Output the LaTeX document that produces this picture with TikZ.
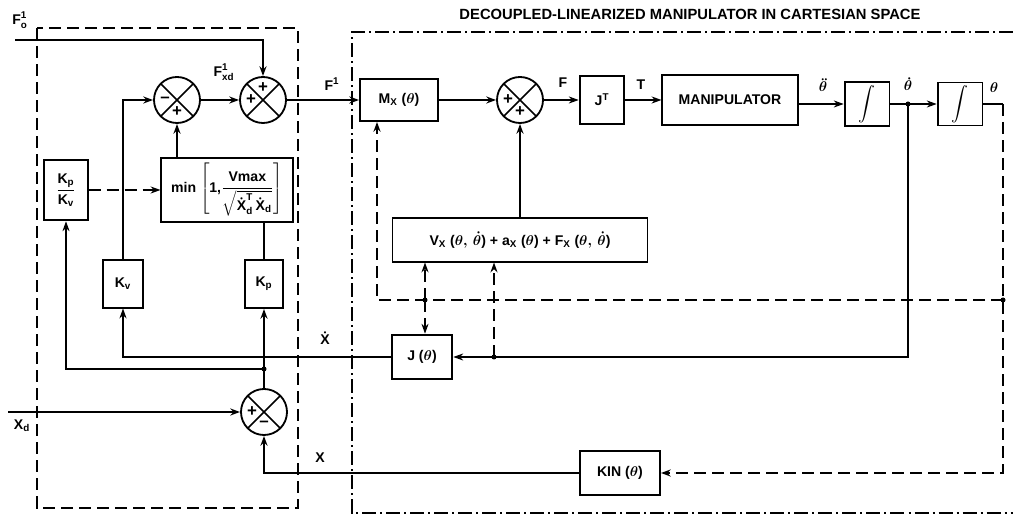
\documentclass[tikz,border=0pt]{standalone}
\usepackage{fontspec}
\setmainfont{Liberation Sans}
\usepackage{amsmath}
\usetikzlibrary{calc, arrows.meta}

\begin{document}
\begin{tikzpicture}[
    x=0.025cm,
    y=-0.025cm,
    >={Stealth[length=7pt, width=5pt]},
    line width=1.1pt,
    every node/.style={font=\bfseries\boldmath},
    blk/.style={draw, rectangle, inner sep=2pt, line width=1.3pt},
    sumj/.style={draw, circle, minimum size=1.15cm, inner sep=0pt, line width=1.3pt,
        path picture={\draw[line width=1.1pt]
            (path picture bounding box.north west) -- (path picture bounding box.south east)
            (path picture bounding box.south west) -- (path picture bounding box.north east);}},
    sgn/.style={font=\bfseries\large, inner sep=0pt},
    lab/.style={inner sep=1pt},
    fb/.style={dash pattern=on 0.3cm off 0.15cm},
    grp/.style={line width=1.3pt, dash pattern=on 0.3cm off 0.15cm},
    sys/.style={line width=1.3pt, dash pattern=on 0.35cm off 0.1cm on 0.05cm off 0.1cm}
]
\useasboundingbox (0,0) rectangle (1013,523);

% --- Group frames ---
\draw[grp] (37,28) rectangle (298,508);
\draw[sys] (1013,32) -- (352,32) -- (352,513) -- (1013,513);
\node[font=\bfseries\fontsize{10.5}{12}\selectfont] (ttl) at (690,14) {DECOUPLED-LINEARIZED MANIPULATOR IN CARTESIAN SPACE};

% --- Summing junctions ---
\node[sumj] (s1) at (177,100) {};
\node[sumj] (s2) at (263,100) {};
\node[sumj] (s3) at (264,412) {};
\node[sumj] (s4) at (520,100) {};

\node[sgn] (s1a) at ($(s1)+(-12,0)$) {--};
\node[sgn] (s1b) at ($(s1)+(0,12)$) {+};
\node[sgn] (s2a) at ($(s2)+(0,-12)$) {+};
\node[sgn] (s2b) at ($(s2)+(-12,0)$) {+};
\node[sgn] (s3a) at ($(s3)+(-12,0)$) {+};
\node[sgn] (s3b) at ($(s3)+(0,12)$) {--};
\node[sgn] (s4a) at ($(s4)+(-12,0)$) {+};
\node[sgn] (s4b) at ($(s4)+(0,12)$) {+};

% --- Blocks ---
\node[blk, minimum width=1.08cm, minimum height=1.52cm] (kpkv) at (66,190)
    {$\dfrac{\text{K}_{\text{p}}}{\text{K}_{\text{v}}}$};
\node[blk, minimum width=3.28cm, minimum height=1.62cm] (minb) at (227,190)
    {min $\left[\text{1,}\dfrac{\text{Vmax}}{\sqrt{\dot{\text{X}}^{\text{T}}_{\text{d}}\,\dot{\text{X}}_{\text{d}}}}\right]$};
\node[blk, minimum width=1cm, minimum height=1.18cm] (kv) at (123,284) {K$_{\text{v}}$};
\node[blk, minimum width=0.95cm, minimum height=1.2cm] (kp) at (264,284) {K$_{\text{p}}$};

\node[blk, minimum width=1.95cm, minimum height=1.05cm] (mx) at (399,100) {M$_{\text{X}}$ ($\theta$)};
\node[blk, minimum width=1.12cm, minimum height=1.18cm] (jt) at (602,100) {J$^{\text{T}}$};
\node[blk, minimum width=3.38cm, minimum height=1.25cm] (man) at (730,100) {MANIPULATOR};
\node[blk, minimum width=1.12cm, minimum height=1.12cm] (i1) at (867,104) {\large$\displaystyle\int$};
\node[blk, minimum width=1.12cm, minimum height=1.05cm] (i2) at (960,104) {\large$\displaystyle\int$};
\node[blk, minimum width=6.375cm, minimum height=1.08cm] (vbox) at (520,240)
    {V$_{\text{X}}$ ($\theta,\,\dot\theta$) + a$_{\text{X}}$ ($\theta$) + F$_{\text{X}}$ ($\theta,\,\dot\theta$)};
\node[blk, minimum width=1.52cm, minimum height=1.12cm] (jac) at (422,357) {J ($\theta$)};
\node[blk, minimum width=2cm, minimum height=1.08cm] (kin) at (620,473) {KIN ($\theta$)};

% --- Free ends and branch points ---
\coordinate (fo) at (15,40);
\coordinate (xd) at (8,412);
\coordinate (j1) at (264,369);
\coordinate (jd) at (908,104);
\coordinate (thr) at (1003,104);
\coordinate (j2) at (1003,300);
\coordinate (j3) at (494,357);
\coordinate (j4) at (425,300);
\fill (j1) circle (2.5);
\fill (jd) circle (2.5);
\fill (j2) circle (2.5);
\fill (j3) circle (2.5);
\fill (j4) circle (2.5);

% --- Outer loop (left) ---
\draw[->] (fo) -| (s2.north);
\draw[->] (kv.north) |- (s1.west);
\draw[->] (minb.north -| s1) -- (s1.south);
\draw (kp.north) -- (kp.north |- minb.south);
\draw[->, fb] (kpkv.east) -- (minb.west);
\draw[->] (s1.east) -- (s2.west);
\draw[->] (s2.east) -- (mx.west);
\draw[->] (s3.north) -- (kp.south);
\draw[->] (j1) -| (kpkv.south);
\draw[->] (jac.west) -| (kv.south);
\draw[->] (xd) -- (s3.west);
\draw[->] (kin.west) -| (s3.south);

% --- Manipulator chain ---
\draw[->] (mx.east) -- (s4.west);
\draw[->] (s4.east) -- (jt.west);
\draw[->] (jt.east) -- (man.west);
\draw[->] (man.east |- i1.west) -- (i1.west);
\draw[->] (i1.east) -- (i2.west);
\draw (i2.east) -- (thr);
\draw[->] (vbox.north) -- (s4.south);

% --- Feedback ---
\draw[->] (jd) |- (jac.east);
\draw[->, fb] (j3) -- (j3 |- vbox.south);
\draw[->, fb] (thr) |- (kin.east);
\draw[->, fb] (j2) -| ([xshift=-0.55cm]mx.south);
\draw[->, fb] (j4) -- (j4 |- vbox.south);
\draw[->, fb] (j4) -- (j4 |- jac.north);

% --- Signal labels ---
\node[lab] (lfo) at (20,20) {$\text{F}^{\text{1}}_{\text{o}}$};
\node[lab] (lfxd) at (224,72) {$\text{F}^{\text{1}}_{\text{xd}}$};
\node[lab] (lf1) at (332,84) {$\text{F}^{\text{1}}$};
\node[lab] (lf) at (563,83) {F};
\node[lab] (lt) at (641,85) {T};
\node[lab] (ldd) at (823,85) {$\ddot\theta$};
\node[lab] (ld) at (908,84) {$\dot\theta$};
\node[lab] (lth) at (994,88) {$\theta$};
\node[lab] (lxdot) at (325,338) {$\dot{\text{X}}$};
\node[lab] (lx) at (320,458) {X};
\node[lab] (lxd) at (22,426) {X$_{\text{d}}$};

\end{tikzpicture}
\end{document}
